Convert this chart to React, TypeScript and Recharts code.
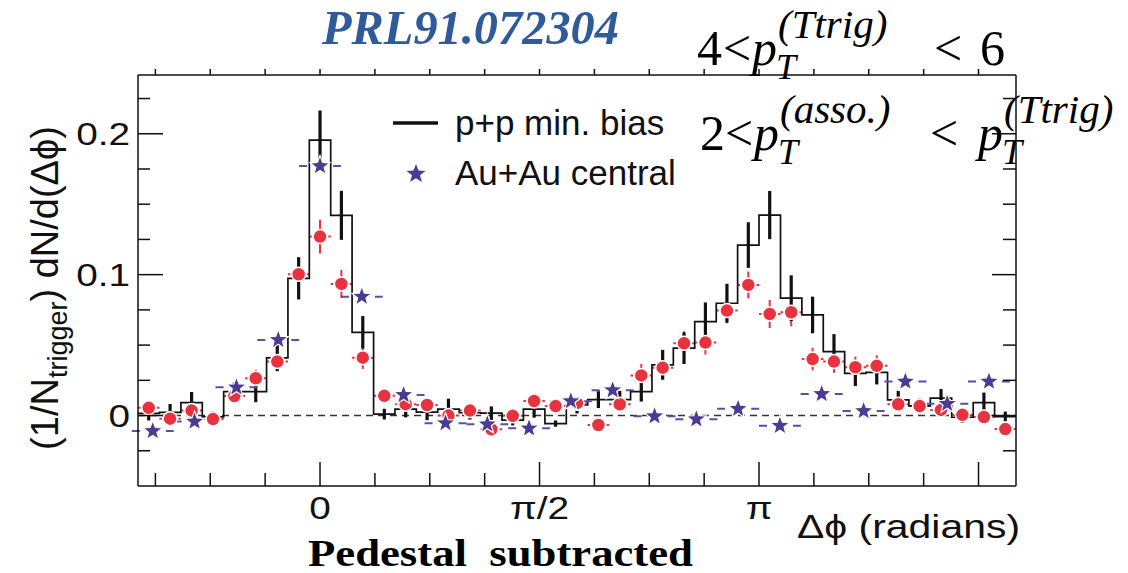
import React from 'react';
import { ComposedChart, Line, Scatter, XAxis, YAxis, ErrorBar, ReferenceLine, Legend } from 'recharts';

// bin centres of the p+p / d+Au histograms (radians)
const binX = [
  -1.226, -1.073, -0.919, -0.766, -0.613, -0.46, -0.306, -0.153, 0, 0.153, 0.306,
  0.46, 0.613, 0.766, 0.919, 1.073, 1.226, 1.379, 1.532, 1.686, 1.839, 1.992,
  2.145, 2.299, 2.452, 2.605, 2.758, 2.912, 3.065, 3.218, 3.372, 3.525, 3.678,
  3.831, 3.984, 4.138, 4.291, 4.444, 4.597, 4.751, 4.904,
];
const binHalf = 0.0766;

// p+p min. bias
const ppY = [
  0.0015, 0.0022, 0.0092, -0.0009, 0.017, 0.017, 0.041, 0.0974, 0.1955, 0.1421, 0.0591,
  0.001, 0.0045, 0.0025, 0.0045, 0.002, 0.0017, -0.0033, 0.0045, -0.0057, 0.0075, 0.0113,
  0.0113, 0.017, 0.036, 0.0478, 0.0667, 0.0797, 0.121, 0.1423, 0.0833, 0.0714, 0.0454,
  0.0299, 0.0306, 0.0111, 0.0069, 0.0123, -0.0012, 0.0092, -0.0007,
];
const ppErr = [
  0.005, 0.006, 0.0075, 0.0038, 0.0065, 0.0075, 0.0095, 0.015, 0.021, 0.0174, 0.0115,
  0.0038, 0.0058, 0.0058, 0.0075, 0.0048, 0.0048, 0.0037, 0.006, 0.0022, 0.006, 0.006,
  0.0062, 0.0071, 0.0106, 0.0112, 0.0136, 0.0138, 0.0162, 0.0171, 0.0162, 0.013, 0.0124,
  0.0089, 0.0085, 0.0065, 0.0053, 0.0065, 0.0039, 0.0071, 0.0035,
];

// red circles
const dauY = [
  0.0055, -0.0022, 0.0035, -0.0025, 0.0138, 0.0265, 0.0383, 0.1003, 0.127, 0.0934, 0.0411,
  0.014, 0.0081, 0.0075, 0.0, 0.0035, -0.0097, -0.0002, 0.0103, 0.0067, 0.0088, -0.0067,
  0.008, 0.0285, 0.034, 0.0513, 0.0518, 0.0745, 0.0927, 0.0721, 0.0733, 0.0401, 0.0383,
  0.0343, 0.0353, 0.008, 0.0067, 0.004, 0.0005, -0.001, -0.0096,
];
const dauErr = [
  0.004, 0.004, 0.004, 0.004, 0.005, 0.006, 0.006, 0.009, 0.012, 0.01, 0.008,
  0.005, 0.005, 0.005, 0.005, 0.005, 0.005, 0.005, 0.005, 0.005, 0.005, 0.005,
  0.005, 0.008, 0.008, 0.0085, 0.0085, 0.009, 0.0095, 0.01, 0.01, 0.008, 0.008,
  0.0075, 0.0075, 0.005, 0.005, 0.005, 0.005, 0.005, 0.005,
];

// Au+Au central (stars)
const auX = [
  -1.197, -0.898, -0.598, -0.299, 0, 0.299, 0.598, 0.898, 1.197, 1.496, 1.795,
  2.094, 2.394, 2.693, 2.992, 3.291, 3.59, 3.89, 4.189, 4.488, 4.787,
];
const auY = [
  -0.011, -0.0043, 0.02, 0.0537, 0.1771, 0.0844, 0.0146, -0.0054, -0.0062, -0.0091, 0.0102,
  0.018, -0.0005, -0.0026, 0.0048, -0.0072, 0.0153, 0.0032, 0.0241, 0.0083, 0.0241,
];
const auXErr = 0.1496;

const xTicks = [
  -1.1781, -0.7854, -0.3927, 0, 0.3927, 0.7854, 1.1781, 1.5708, 1.9635, 2.3562,
  2.7489, 3.1416, 3.5343, 3.927, 4.3197, 4.7124,
];
const xMajor = [0, 1.5708, 3.1416, 4.7124];
const xLabels: Record<string, string> = { '0': '0', '1.5708': 'π/2', '3.1416': 'π' };
const yTicks = [-0.025, 0, 0.025, 0.05, 0.075, 0.1, 0.125, 0.15, 0.175, 0.2, 0.225];
const yMajor = [0, 0.1, 0.2];
const yLabels: Record<string, string> = { '0': '0', '0.1': '0.1', '0.2': '0.2' };

const X_DOMAIN: [number, number] = [-1.3026, 4.9806];
const Y_DOMAIN: [number, number] = [-0.05, 0.2417];

const LEFT = 138;
const TOP = 75;
const RIGHT = 1016;
const BOTTOM = 486;

const INK = '#111';
const RED = '#e8333f';
const PURPLE = '#4b3b93';
const SANS = '"Liberation Sans", Arial, sans-serif';
const SERIF = '"Liberation Serif", "Times New Roman", serif';

const ppData = binX.map((x, i) => ({ x, y: ppY[i], err: ppErr[i] }));
const histData = [
  ...binX.map((x, i) => ({ x: x - binHalf, y: ppY[i] })),
  { x: binX[binX.length - 1] + binHalf, y: ppY[ppY.length - 1] },
];
const dauData = binX.map((x, i) => ({ x, y: dauY[i], yErr: dauErr[i], xErr: binHalf }));
const auData = auX.map((x, i) => ({ x, y: auY[i], xErr: auXErr }));

const near = (v: number, list: number[]) => list.some((m) => Math.abs(m - v) < 1e-3);

const starPoints = (cx: number, cy: number, R: number) => {
  const pts: string[] = [];
  for (let i = 0; i < 10; i++) {
    const a = -Math.PI / 2 + (i * Math.PI) / 5;
    const r = i % 2 === 0 ? R : R * 0.42;
    pts.push(`${(cx + r * Math.cos(a)).toFixed(2)},${(cy + r * Math.sin(a)).toFixed(2)}`);
  }
  return pts.join(' ');
};

const BottomTick = (props: any) => {
  const { x, payload } = props;
  const v = payload.value;
  const label = xLabels[String(v)];
  return (
    <g>
      <line x1={x} x2={x} y1={BOTTOM} y2={BOTTOM - (near(v, xMajor) ? 24 : 13)} stroke={INK} strokeWidth={1.5} />
      {label && (
        <text transform={`translate(${x},${BOTTOM + 33}) scale(1.25,1)`} textAnchor="middle" fontFamily={SANS} fontSize={31} fill={INK}>
          {label}
        </text>
      )}
    </g>
  );
};

const TopTick = (props: any) => {
  const { x } = props;
  return <line x1={x} x2={x} y1={TOP} y2={TOP - 6} stroke={INK} strokeWidth={1.5} />;
};

const LeftTick = (props: any) => {
  const { y, payload } = props;
  const v = payload.value;
  const label = yLabels[String(v)];
  return (
    <g>
      <line x1={LEFT} x2={LEFT + (near(v, yMajor) ? 25 : 12)} y1={y} y2={y} stroke={INK} strokeWidth={1.5} />
      {label && (
        <text transform={`translate(130,${y + 11}) scale(1.25,1)`} textAnchor="end" fontFamily={SANS} fontSize={31} fill={INK}>
          {label}
        </text>
      )}
    </g>
  );
};

const RightTick = (props: any) => {
  const { y, payload } = props;
  const v = payload.value;
  return <line x1={RIGHT} x2={RIGHT - (near(v, yMajor) ? 24 : 13)} y1={y} y2={y} stroke={INK} strokeWidth={1.5} />;
};

const LegendBox = () => (
  <svg width={340} height={100}>
    <line x1={8} x2={53} y1={25} y2={25} stroke={INK} strokeWidth={3.5} />
    <text x={70} y={37} fontFamily={SANS} fontSize={35} fill={INK}>p+p min. bias</text>
    <polygon points={starPoints(31, 76, 10)} fill={PURPLE} />
    <text x={70} y={87} fontFamily={SANS} fontSize={35} fill={INK}>Au+Au central</text>
  </svg>
);

export default function App() {
  return (
    <div style={{ position: 'absolute', left: 0, top: 0, width: 1128, height: 573, background: '#fff' }}>
      <ComposedChart width={1128} height={573} margin={{ top: 65, right: 102, bottom: 47, left: 78 }}>
        <XAxis
          type="number"
          dataKey="x"
          domain={X_DOMAIN}
          ticks={xTicks}
          interval={0}
          allowDataOverflow
          height={40}
          tickLine={false}
          tickSize={0}
          tick={BottomTick}
          axisLine={{ stroke: INK, strokeWidth: 1.5 }}
        />
        <XAxis
          xAxisId="top"
          orientation="top"
          type="number"
          dataKey="x"
          domain={X_DOMAIN}
          ticks={xTicks}
          interval={0}
          allowDataOverflow
          height={10}
          tickLine={false}
          tickSize={0}
          tick={TopTick}
          axisLine={{ stroke: INK, strokeWidth: 1.5 }}
        />
        <YAxis
          type="number"
          domain={Y_DOMAIN}
          ticks={yTicks}
          interval={0}
          allowDataOverflow
          width={60}
          tickLine={false}
          tickSize={0}
          tick={LeftTick}
          axisLine={{ stroke: INK, strokeWidth: 1.5 }}
        />
        <YAxis
          yAxisId="right"
          orientation="right"
          type="number"
          domain={Y_DOMAIN}
          ticks={yTicks}
          interval={0}
          allowDataOverflow
          width={10}
          tickLine={false}
          tickSize={0}
          tick={RightTick}
          axisLine={{ stroke: INK, strokeWidth: 1.5 }}
        />
        <ReferenceLine y={0} stroke="#333" strokeWidth={1.6} strokeDasharray="7 5" />
        <Scatter data={dauData} dataKey="y" isAnimationActive={false}
          shape={(p: any) => <circle cx={p.cx} cy={p.cy} r={7} fill={RED} stroke="#fff" strokeWidth={1.5} />}>
          <ErrorBar dataKey="yErr" direction="y" width={0} stroke={RED} strokeWidth={2} isAnimationActive={false} />
          <ErrorBar dataKey="xErr" direction="x" width={0} stroke={RED} strokeWidth={2} strokeDasharray="2.5 16.5" isAnimationActive={false} />
        </Scatter>
        <Line data={histData} dataKey="y" type="stepAfter" stroke={INK} strokeWidth={1.7} dot={false} activeDot={false} isAnimationActive={false} />
        <Scatter data={ppData} dataKey="y" isAnimationActive={false} shape={() => <g />}>
          <ErrorBar dataKey="err" direction="y" width={0} stroke={INK} strokeWidth={3.2} isAnimationActive={false} />
        </Scatter>
        <Scatter data={auData} dataKey="y" isAnimationActive={false}
          shape={(p: any) => <polygon points={starPoints(p.cx, p.cy, 10.5)} fill={PURPLE} stroke="#fff" strokeWidth={1.2} />}>
          <ErrorBar dataKey="xErr" direction="x" width={0} stroke="#5b4ea6" strokeWidth={2} strokeDasharray="8 26" isAnimationActive={false} />
        </Scatter>
        <Legend
          layout="horizontal"
          verticalAlign="middle"
          align="center"
          wrapperStyle={{ left: 385, top: 98, width: 340, height: 100 }}
          content={LegendBox}
        />
      </ComposedChart>
      <svg width={1128} height={573} style={{ position: 'absolute', left: 0, top: 0, pointerEvents: 'none' }}>
        <text x={322} y={44} fontFamily={SERIF} fontStyle="italic" fontWeight="bold" fontSize={48} fill="#2f5b9b"
          textLength={297} lengthAdjust="spacingAndGlyphs">PRL91.072304</text>

        <text fontFamily={SERIF} fill="#000" fontSize={50}>
          <tspan x={697} y={65}>4</tspan>
          <tspan x={723} y={65}>&lt;</tspan>
          <tspan x={752} y={65} fontStyle="italic">p</tspan>
          <tspan x={776} y={79} fontSize={36} fontStyle="italic">T</tspan>
          <tspan x={778} y={38} fontSize={41} fontStyle="italic">(Ttrig)</tspan>
          <tspan x={934} y={65}>&lt;</tspan>
          <tspan x={980} y={65}>6</tspan>
        </text>

        <text fontFamily={SERIF} fill="#000" fontSize={50}>
          <tspan x={700} y={150}>2</tspan>
          <tspan x={725} y={150}>&lt;</tspan>
          <tspan x={754} y={150} fontStyle="italic">p</tspan>
          <tspan x={778} y={164} fontSize={36} fontStyle="italic">T</tspan>
          <tspan x={780} y={123} fontSize={41} fontStyle="italic">(asso.)</tspan>
          <tspan x={930} y={150}>&lt;</tspan>
          <tspan x={978} y={150} fontStyle="italic">p</tspan>
          <tspan x={1002} y={164} fontSize={36} fontStyle="italic">T</tspan>
          <tspan x={1004} y={123} fontSize={41} fontStyle="italic">(Ttrig)</tspan>
        </text>

        <text transform="translate(58,288) rotate(-90)" textAnchor="middle" fontFamily={SANS} fontSize={38} fill={INK}>
          (1/N<tspan dy={9} fontSize={27}>trigger</tspan><tspan dy={-9} fontSize={38}>) dN/d(Δϕ)</tspan>
        </text>
        <text x={797} y={538} fontFamily={SANS} fontSize={33} fill={INK} textLength={223} lengthAdjust="spacingAndGlyphs">Δϕ (radians)</text>
        <text x={308} y={566} fontFamily={SERIF} fontWeight="bold" fontSize={38} fill="#000" textLength={385} lengthAdjust="spacingAndGlyphs">
          Pedestal{'\u00a0\u00a0'}subtracted
        </text>
      </svg>
    </div>
  );
}
